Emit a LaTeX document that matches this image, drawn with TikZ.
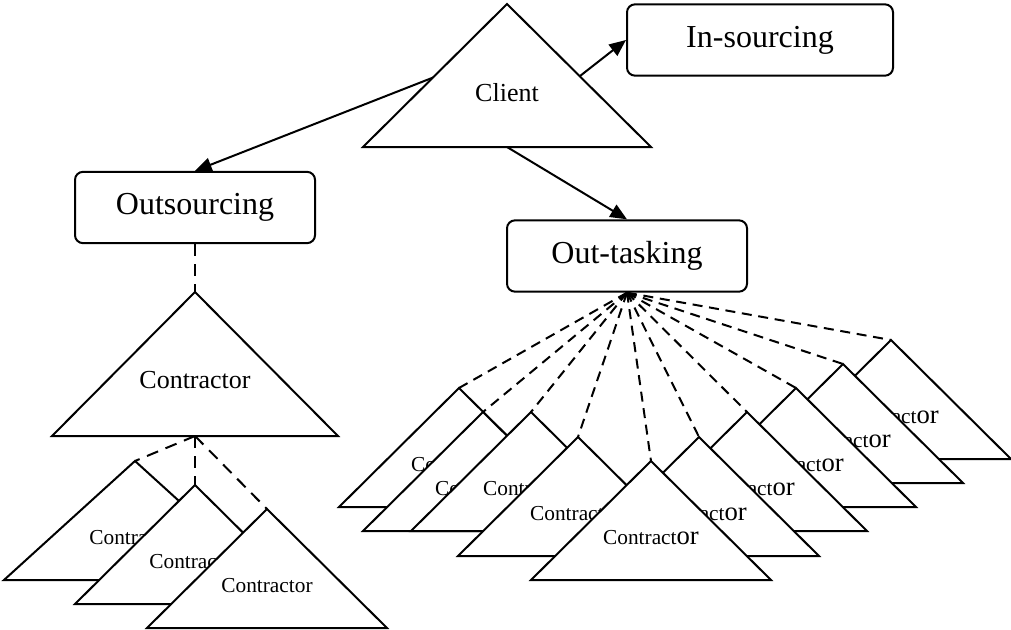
\documentclass[tikz,border=0pt]{standalone}
\usepackage{fontspec}
\setmainfont{Liberation Serif}
\usetikzlibrary{arrows.meta,calc}

\tikzset{
  box/.style={draw,line width=1.5pt,rounded corners=6pt,fill=white,
    minimum width=180pt,minimum height=53.5pt,font=\fontsize{24}{24}\selectfont},
  tri/.style={line width=1.5pt,fill=white,line join=miter},
  arr/.style={line width=1.5pt,-{Triangle[length=12.5pt,width=10.5pt]}},
  link/.style={line width=1.5pt,dash pattern=on 9pt off 6pt},
  fan/.style={line width=1.5pt,dash pattern=on 7.5pt off 5pt},
  bigtext/.style={font=\fontsize{19.5}{19.5}\selectfont},
  ctrtext/.style={font=\fontsize{16}{16}\selectfont,inner sep=0pt}
}

% name, x, y, half width, label
\newcommand{\ctrtri}[5]{%
  \coordinate (#1) at (#2,#3);
  \filldraw[tri] (#1) -- ++(#4,119) -- ++(-2*#4,0) -- cycle;
  \node[ctrtext] (#1-txt) at ($(#1)+(0,77)$) {#5};}
\newcommand{\ctrlbl}{Contract{\fontsize{20}{20}\selectfont or}}

\begin{document}
\begin{tikzpicture}[x=0.75pt,y=-0.75pt]
\useasboundingbox (0,0) rectangle (1011,629);

\coordinate (client) at (507,4);
\coordinate (client-l) at (437,76);
\coordinate (client-r) at (580,76);
\coordinate (client-b) at (507,147);
\node[box,minimum width=199.5pt] (ins) at (760,40) {In-sourcing};
\node[box] (outs) at (195,207.5) {Outsourcing};
\node[box] (outt) at (627,256) {Out-tasking};

\draw[arr] (client-l) -- (outs.north);
\draw[arr] (client-r) -- (ins.west);
\draw[arr] (client-b) -- (outt.north);
\filldraw[tri] (client) -- (651,147) -- (363,147) -- cycle;
\node[bigtext] (client-txt) at (507,93) {Client};

% outsourcing branch
\coordinate (bigc) at (195,292);
\coordinate (bigc-b) at (195,436);
\draw[link] (outs.south) -- (bigc);
\filldraw[tri] (bigc) -- (338,436) -- (52,436) -- cycle;
\node[bigtext] (bigc-txt) at (195,380) {Contractor};
\draw[link] (bigc-b) -- (135,461);
\draw[link] (bigc-b) -- (195,485);
\draw[link] (bigc-b) -- (267,509);
\ctrtri{t1}{135}{461}{131}{Contractor}
\ctrtri{t2}{195}{485}{120}{Contractor}
\ctrtri{t3}{267}{509}{120}{Contractor}

% out-tasking branch
\foreach \x/\y in {459/388,483/412,531/412,578/437,651/461,699/437,747/412,796/388,843/364,891/340}
  \draw[fan] (outt.south) -- (\x,\y);
\ctrtri{r10}{891}{340}{120}{\ctrlbl}
\ctrtri{r9}{843}{364}{120}{\ctrlbl}
\ctrtri{r8}{796}{388}{120}{\ctrlbl}
\ctrtri{r7}{747}{412}{120}{\ctrlbl}
\ctrtri{r6}{699}{437}{120}{\ctrlbl}
\ctrtri{r1}{459}{388}{120}{\ctrlbl}
\ctrtri{r2}{483}{412}{120}{\ctrlbl}
\ctrtri{r3}{531}{412}{120}{\ctrlbl}
\ctrtri{r4}{578}{437}{120}{\ctrlbl}
\ctrtri{r5}{651}{461}{120}{\ctrlbl}
\end{tikzpicture}
\end{document}
